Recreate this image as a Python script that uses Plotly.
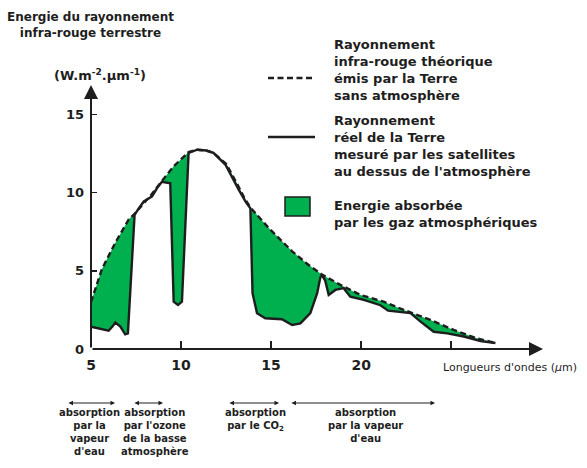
import plotly.graph_objects as go

# ---------------- data ----------------
# Theoretical IR emission of Earth without atmosphere (dashed)
theo_x = [5.0, 5.6, 6.35, 7.1, 7.42, 7.9, 8.3, 8.9, 9.6, 10.24, 10.42, 10.9, 11.4, 11.8,
          12.5, 13.1, 13.5, 13.85, 14.87, 16.17, 17.0, 17.8, 18.85, 19.96, 21.25, 22.37,
          23.85, 25.14, 26.44, 27.46]
theo_y = [3.0, 5.1, 6.8, 8.3, 8.65, 9.3, 9.8, 10.7, 11.7, 12.4, 12.6, 12.75, 12.7, 12.55,
          11.85, 10.6, 9.7, 9.05, 7.74, 6.25, 5.45, 4.78, 4.1, 3.46, 3.03, 2.5,
          1.86, 1.22, 0.68, 0.38]

# Real emission measured by satellites (solid)
meas_x = [5.0, 5.42, 5.98, 6.2, 6.35, 6.63, 6.9, 7.05, 7.42, 7.65, 7.93, 8.39, 8.67, 8.94,
          9.4, 9.59, 9.83, 10.05, 10.42, 10.9, 11.4, 11.8, 12.46, 13.2, 13.6, 13.85, 13.9,
          13.97, 14.22, 14.68, 15.6, 16.17, 16.63, 17.18, 17.56, 17.74, 17.83, 18.0, 18.2,
          18.57, 19.03, 19.4, 20.15, 21.07, 21.5, 22.1, 22.74, 23.3, 24.03, 24.78, 25.7,
          26.63, 27.46]
meas_y = [1.43, 1.33, 1.17, 1.45, 1.69, 1.43, 0.94, 1.0, 8.58, 9.0, 9.44, 9.76, 10.3, 10.7,
          10.6, 3.03, 2.82, 3.03, 12.54, 12.75, 12.7, 12.55, 11.8, 10.2, 9.4, 9.0, 5.7,
          3.57, 2.29, 1.97, 1.9, 1.54, 1.64, 2.29, 3.57, 4.6, 4.7, 4.4, 3.46,
          3.78, 3.89, 3.35, 3.14, 2.8, 2.45, 2.4, 2.3, 1.75, 1.1, 1.0, 0.8,
          0.5, 0.38]

x_tickvals = [5, 10, 15, 20, 25]
x_ticktext = ["5", "10", "15", "20", ""]
y_tickvals = [0, 5, 10, 15]
y_ticktext = ["0", "5", "10", "15"]

legend_texts = [
    "Rayonnement<br>infra-rouge théorique<br>émis par la Terre<br>sans atmosphère",
    "Rayonnement<br>réel de la Terre<br>mesuré par les satellites<br>au dessus de l'atmosphère",
    "Energie absorbée<br>par les gaz atmosphériques",
]
band_texts = [
    "absorption<br>par la<br>vapeur<br>d'eau",
    "absorption<br>par l'ozone<br>de la basse<br>atmosphère",
    "absorption<br>par le CO<sub>2</sub>",
    "absorption<br>par la vapeur<br>d'eau",
]

# ---------------- styling / layout ----------------
GREEN = "#00b04f"
INK = "#1e1e1e"
FONT = "DejaVu Sans"
DASH = "6px,3.5px"
W, H = 587, 468
L, R, T, B = 91, 44, 85, 119
PW, PH = W - L - R, H - T - B
XR = [5, 30.1]
YR = [0, 16.89]


def pxx(x):
    return (x - L) / PW


def pxy(y):
    return (H - B - y) / PH


def bfont(size):
    return dict(family=FONT, size=size, color=INK, weight="bold")


fig = go.Figure()
fig.add_trace(go.Scatter(x=theo_x, y=theo_y, mode="lines", line=dict(width=0, color="rgba(0,0,0,0)"),
                         hoverinfo="skip", showlegend=False))
fig.add_trace(go.Scatter(x=meas_x, y=meas_y, mode="lines", line=dict(width=0, color="rgba(0,0,0,0)"),
                         fill="tonexty", fillcolor=GREEN, hoverinfo="skip", showlegend=False))
fig.add_trace(go.Scatter(x=theo_x, y=theo_y, mode="lines",
                         line=dict(color=INK, width=2.4, dash=DASH),
                         hoverinfo="skip", showlegend=False))
fig.add_trace(go.Scatter(x=meas_x, y=meas_y, mode="lines",
                         line=dict(color=INK, width=2.4),
                         hoverinfo="skip", showlegend=False))

annotations = []
# axis arrows
annotations.append(dict(x=XR[1], y=0, xref="x", yref="y", ax=XR[0], ay=0, axref="x", ayref="y",
                        showarrow=True, arrowhead=2, arrowsize=1.4, arrowwidth=2, arrowcolor=INK, text=""))
annotations.append(dict(x=XR[0], y=YR[1], xref="x", yref="y", ax=XR[0], ay=0, axref="x", ayref="y",
                        showarrow=True, arrowhead=2, arrowsize=1.4, arrowwidth=2, arrowcolor=INK, text=""))

# titles
annotations.append(dict(x=pxx(90), y=pxy(25), xref="paper", yref="paper", showarrow=False,
                        text="Energie du rayonnement<br>infra-rouge terrestre", align="center",
                        font=bfont(12), xanchor="center", yanchor="middle"))
annotations.append(dict(x=pxx(100), y=pxy(75), xref="paper", yref="paper", showarrow=False,
                        text="(W.m<sup>-2</sup>.µm<sup>-1</sup>)",
                        font=bfont(13), xanchor="center", yanchor="middle"))
annotations.append(dict(x=pxx(441), y=pxy(367), xref="paper", yref="paper", showarrow=False,
                        text="Longueurs d'ondes (<i>µ</i>m)",
                        font=dict(family=FONT, size=11, color=INK), xanchor="left", yanchor="middle"))

# legend texts
for txt, cy in zip(legend_texts, [70, 146, 214]):
    annotations.append(dict(x=pxx(332), y=pxy(cy), xref="paper", yref="paper", showarrow=False,
                            text=txt, align="left", xanchor="left", yanchor="middle",
                            font=bfont(13)))

# absorption bands: arrows + labels
for (x0, x1) in [(67, 115), (133, 163), (228, 279), (290, 435)]:
    annotations.append(dict(x=pxx(x1), y=pxy(403), xref="paper", yref="paper", ax=-(x1 - x0), ay=0,
                            showarrow=True, arrowhead=2, startarrowhead=2, arrowside="end+start",
                            arrowsize=0.9, startarrowsize=0.9, arrowwidth=1, arrowcolor=INK, text=""))
for txt, cx in zip(band_texts, [89, 155, 255, 365]):
    annotations.append(dict(x=pxx(cx), y=pxy(405), xref="paper", yref="paper", showarrow=False,
                            text=txt, align="center", xanchor="center", yanchor="top",
                            font=bfont(10)))

shapes = [
    dict(type="line", xref="paper", yref="paper", x0=pxx(268), x1=pxx(315), y0=pxy(78), y1=pxy(78),
         line=dict(color=INK, width=2.4, dash=DASH)),
    dict(type="line", xref="paper", yref="paper", x0=pxx(268), x1=pxx(315), y0=pxy(137), y1=pxy(137),
         line=dict(color=INK, width=2.4)),
    dict(type="rect", xref="paper", yref="paper", x0=pxx(285), x1=pxx(310), y0=pxy(216), y1=pxy(197),
         fillcolor=GREEN, line=dict(color=INK, width=1.5)),
]

fig.update_layout(
    width=W, height=H,
    margin=dict(l=L, r=R, t=T, b=B, pad=0),
    paper_bgcolor="white", plot_bgcolor="white",
    showlegend=False,
    annotations=annotations,
    shapes=shapes,
    font=dict(family=FONT, color=INK),
    xaxis=dict(range=XR, showgrid=False, zeroline=False, showline=False,
               tickvals=x_tickvals, ticktext=x_ticktext, ticks="inside", ticklen=8,
               tickwidth=1.5, tickcolor=INK, ticklabelstandoff=6,
               tickfont=bfont(14), fixedrange=True),
    yaxis=dict(range=YR, showgrid=False, zeroline=False, showline=False,
               tickvals=y_tickvals, ticktext=y_ticktext, ticks="inside", ticklen=6,
               tickwidth=1.5, tickcolor=INK, ticklabelstandoff=6,
               tickfont=bfont(13), fixedrange=True),
)

fig.write_html("out.html", config={"displayModeBar": False, "staticPlot": True})

# remove the browser's default 8px body margin so the figure sits at the page origin
with open("out.html", "r", encoding="utf-8") as f:
    html = f.read()
html = html.replace("<head>", "<head><style>html,body{margin:0;padding:0;overflow:hidden;}</style>", 1)
with open("out.html", "w", encoding="utf-8") as f:
    f.write(html)
